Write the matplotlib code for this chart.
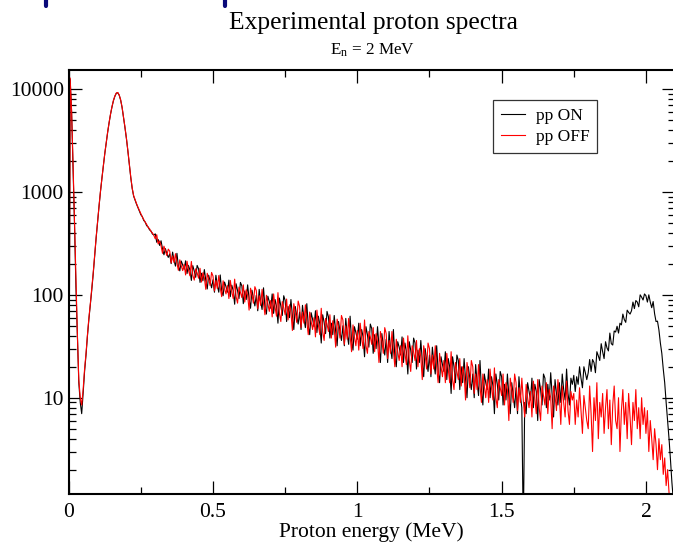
import numpy as np
import matplotlib
matplotlib.use("Agg")
import matplotlib.pyplot as plt
from matplotlib import ticker
from matplotlib.lines import Line2D

plt.rcParams["font.family"] = ["Liberation Serif", "DejaVu Serif"]
plt.rcParams["mathtext.fontset"] = "custom"
plt.rcParams["mathtext.rm"] = "Liberation Serif"
plt.rcParams["mathtext.it"] = "Liberation Serif:italic"

# --- data: counts per 5 keV bin ---
bin_width = 0.005  # MeV

counts_on = [
    0.5, 12500, 6000, 1800, 500, 120, 40, 14, 9, 7,
    11, 18, 26, 40, 58, 80, 112, 160, 240, 355,
    510, 720, 1000, 1350, 1780, 2350, 3000, 3800, 4700, 5700,
    6700, 7700, 8500, 9100, 9200, 8700, 7800, 6600, 5300, 4200,
    3300, 2500, 1850, 1380, 1080, 910, 830, 760, 705, 650,
    600, 575, 528, 510, 470, 458, 428, 418, 390, 382,
    391, 324, 345, 302, 335, 279, 245, 281, 251, 231,
    250, 201, 260, 215, 190, 253, 190, 171, 213, 195,
    177, 214, 161, 193, 174, 138, 192, 170, 148, 193,
    179, 132, 162, 137, 176, 138, 114, 155, 134, 117,
    140, 106, 155, 123, 106, 156, 109, 98, 133, 120,
    106, 139, 96, 124, 110, 81, 128, 110, 92, 132,
    122, 82, 109, 90, 125, 92, 74, 111, 92, 78,
    99, 70, 113, 86, 72, 117, 76, 65, 97, 86,
    74, 102, 66, 90, 77, 53, 93, 78, 63, 98,
    88, 55, 77, 60, 90, 63, 46, 77, 62, 52,
    68, 46, 79, 59, 48, 82, 50, 41, 67, 58,
    49, 70, 43, 62, 52, 34, 64, 54, 42, 69,
    61, 38, 53, 41, 63, 44, 32, 55, 44, 36,
    50, 32, 59, 41, 33, 62, 36, 29, 49, 43,
    37, 53, 32, 46, 39, 25, 49, 41, 31, 52,
    47, 27, 41, 30, 49, 32, 22, 42, 32, 26,
    37, 22, 44, 30, 24, 46, 25, 20, 35, 31,
    26, 39, 22, 34, 28, 17, 35, 29, 22, 38,
    34, 19, 29, 22, 36, 23, 16, 30, 23, 18,
    26, 16, 31, 22, 17, 32, 18, 14, 25, 21,
    18, 28, 15, 24, 20, 11, 25, 20, 14, 26,
    23, 12, 20, 14, 24, 15, 10, 20, 15, 12,
    17, 10, 21, 14, 10.5, 23, 12, 8.5, 17, 14,
    12, 19, 10, 16, 13, 7, 17, 13.5, 9.5, 18,
    16, 8.5, 13.5, 9.5, 17, 10.5, 7, 14, 10.5, 8,
    12.5, 7, 16, 10.5, 8, 0.5, 9, 7, 14, 11.5,
    9.5, 15.5, 8, 13.5, 11.5, 6, 15, 12, 8.5, 17,
    15.5, 8, 13.5, 9.5, 17.5, 10.5, 6.5, 15, 11, 8.5,
    14, 9, 17, 12, 9.5, 19, 11, 8.5, 15.5, 13.5,
    16.5, 11.5, 16, 13.5, 20, 15.5, 12.5, 20, 17.5, 15,
    17.5, 23.5, 18, 23.5, 22, 17.5, 28, 25.5, 23, 33.5,
    28, 24, 35, 30.5, 28.5, 42.5, 33.5, 32.5, 44.5, 43.5,
    49.5, 42.5, 53, 51, 65, 57.5, 54, 71, 67.5, 65,
    70, 85, 73.5, 88, 85, 76.5, 100, 95, 89, 102,
    98, 85, 100, 85, 75, 86, 65.5, 55, 55.5, 45.5,
    34, 27, 19, 14, 9, 6, 4, 2.5, 1.5, 1,
    0.5,
]

counts_off = [
    0.5, 12800, 6200, 1900, 520, 130, 42, 15, 10, 8.5,
    12, 19, 27, 41, 60, 82, 115, 165, 245, 360,
    515, 725, 1010, 1360, 1790, 2360, 3020, 3830, 4730, 5730,
    6750, 7750, 8550, 9150, 9250, 8750, 7850, 6650, 5350, 4250,
    3320, 2520, 1870, 1400, 1090, 920, 840, 770, 710, 660,
    612, 572, 540, 508, 485, 452, 440, 412, 400, 378,
    350, 384, 312, 334, 299, 253, 297, 268, 241, 278,
    266, 204, 239, 206, 251, 203, 173, 219, 191, 172,
    198, 156, 212, 174, 153, 211, 155, 139, 179, 163,
    145, 181, 133, 164, 146, 113, 162, 143, 123, 165,
    152, 109, 138, 115, 154, 117, 96, 137, 115, 102,
    123, 92, 138, 108, 92, 142, 96, 83, 119, 106,
    94, 125, 85, 112, 99, 71, 116, 100, 83, 120,
    110, 73, 98, 79, 113, 82, 64, 99, 82, 69,
    88, 61, 102, 76, 62, 105, 66, 55, 86, 75,
    64, 91, 57, 80, 68, 45, 82, 68, 54, 87,
    77, 48, 68, 53, 80, 55, 41, 68, 55, 46,
    60, 39, 71, 51, 41, 74, 44, 36, 59, 52,
    44, 64, 38, 56, 47, 31, 58, 49, 38, 63,
    57, 33, 50, 37, 59, 40, 28, 51, 39, 32,
    45, 29, 53, 38, 30, 57, 32, 27, 44, 39,
    33, 48, 28, 42, 35, 22, 44, 36, 27, 48,
    42, 24, 36, 27, 44, 29, 20, 37, 28, 23,
    32, 20, 38, 27, 21, 40, 23, 18, 32, 28,
    23, 36, 20, 30, 25, 15, 32, 26, 19, 34,
    30, 17, 26, 19, 32, 20, 14, 27, 20, 16,
    23, 14, 27, 19, 14, 28, 15, 12, 22, 18,
    15, 24, 13, 20, 17, 9.5, 22, 17, 12.5, 23,
    20, 11, 17, 12, 21, 13, 9, 17, 13, 10,
    15, 9, 19, 12.5, 9.5, 19.5, 10, 8, 15, 12.5,
    10.5, 17, 8.5, 14, 12, 6, 15.5, 12, 9, 17,
    14, 7.5, 12.5, 9, 15.5, 9.5, 6.5, 13.5, 10, 8,
    11.5, 6.5, 14.5, 10, 7, 15, 8, 6, 13, 10.5,
    8.5, 14, 7, 12, 10, 5, 13, 10.5, 7.5, 15,
    10.5, 5.5, 13, 9, 6.5, 14.5, 7.5, 5.5, 11.5, 9.5,
    11, 5.5, 9.5, 6.5, 12.5, 7.5, 4.5, 10.5, 8, 6,
    5, 13, 7, 3, 10, 6, 14, 4, 9, 6.5,
    11, 4.5, 8, 12, 5, 9.5, 3.5, 8.5, 13, 6,
    5, 10, 3, 7.5, 12, 5.5, 9, 4, 11, 6.5,
    3.5, 9, 6, 12, 5, 8, 4, 10, 5.5, 8,
    4.5, 7.5, 3, 6, 4, 2.5, 5, 3.5, 2, 4,
    2.5, 3.5, 1.8, 2.6, 1.4, 2, 1.2, 0.9, 0.7, 0.5,
    0.5,
]

energy = bin_width * np.arange(len(counts_on))

title = "Experimental proton spectra"
subtitle = r"E$_\mathrm{n}$ = 2 MeV"
x_ticks = [0, 0.5, 1, 1.5, 2]
y_ticks = [10, 100, 1000, 10000]

# --- figure ---
W, H = 673, 542
fig = plt.figure(figsize=(W / 100, H / 100), dpi=100)
ax = fig.add_axes([68.7 / W, 1 - 494 / H, 606.1 / W, 424 / H])

ax.plot(energy, counts_on, color="black", lw=0.8, label="pp ON")
ax.plot(energy, counts_off, color="red", lw=0.8, label="pp OFF")

ax.set_yscale("log")
ax.set_xlim(0, 2.1)
ax.set_ylim(1.16, 15300)

ax.set_xticks(x_ticks)
ax.xaxis.set_minor_locator(ticker.MultipleLocator(0.25))
ax.xaxis.set_major_formatter(ticker.FuncFormatter(lambda v, p: f"{v:g}"))
ax.yaxis.set_major_locator(ticker.FixedLocator(y_ticks))
ax.yaxis.set_major_formatter(ticker.FuncFormatter(lambda v, p: f"{v:g}"))
ax.yaxis.set_minor_locator(ticker.LogLocator(base=10, subs=np.arange(2, 10)))
ax.yaxis.set_minor_formatter(ticker.NullFormatter())

ax.tick_params(which="both", direction="in", top=True, right=True,
               labelsize=15.5, width=0.9)
ax.tick_params(which="major", length=9.5)
ax.tick_params(which="minor", length=5)
ax.tick_params(axis="x", pad=6.5)
ax.tick_params(axis="y", pad=3.5)
for s in ax.spines.values():
    s.set_linewidth(1.5)

ax.set_xlabel("Proton energy (MeV)", fontsize=15.5)
ax.xaxis.set_label_coords(0.5, (494 - 537) / 424)
ax.xaxis.label.set_va("baseline")

leg = ax.legend(loc="upper left", bbox_to_anchor=((493 - 68.7) / 606.1, (494 - 100) / 424),
                fontsize=12.5, frameon=True, fancybox=False, borderpad=0.45,
                labelspacing=0.3, handlelength=1.4, handletextpad=0.6,
                borderaxespad=0)
leg.get_frame().set_edgecolor("black")
leg.get_frame().set_linewidth(0.9)

fig.text(373 / W, 1 - 29 / H, title, ha="center", va="baseline", fontsize=18.4)
fig.text(373 / W, 1 - 55 / H, subtitle, ha="center", va="baseline", fontsize=12.3)

# little navy marks along the top edge
for xm in (46, 225):
    fig.add_artist(Line2D([xm / W, xm / W], [1.0, 1 - 6 / H], color="#0a0a7a",
                          lw=3, solid_capstyle="round", transform=fig.transFigure))

fig.savefig("out.png", dpi=100)
